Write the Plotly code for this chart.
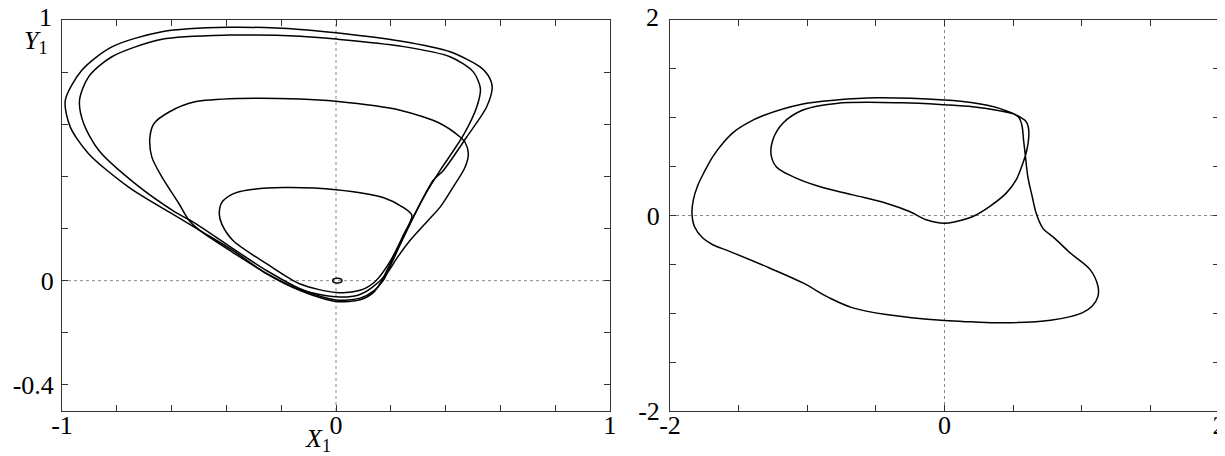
import plotly.graph_objects as go

# ---------------- Left panel (X1, Y1) ----------------
tiny_x = [0.022, 0.017, 0.005, -0.008, -0.012, -0.008, 0.005, 0.017, 0.022]
tiny_y = [0.0, 0.0065, 0.009, 0.0065, 0.0, -0.0065, -0.009, -0.0065, 0.0]

small_x = [0.0, 0.088, 0.142, 0.197, 0.245, 0.277, 0.245, 0.172, 0.0, -0.193, -0.321, -0.376,
           -0.416, -0.426, -0.417, -0.376, -0.252, -0.131, 0.0]
small_y = [-0.045, -0.037, -0.004, 0.073, 0.173, 0.25, 0.281, 0.319, 0.349, 0.357, 0.348, 0.333,
           0.301, 0.257, 0.218, 0.154, 0.064, -0.013, -0.045]

medium_x = [0.0, 0.080, 0.131, 0.185, 0.226, 0.270, 0.336, 0.380, 0.427, 0.471, 0.483, 0.471,
            0.453, 0.380, 0.234, 0.0, -0.131, -0.354, -0.515, -0.609, -0.664, -0.679, -0.672,
            -0.635, -0.573, -0.536, -0.496, -0.376, -0.252, -0.131, 0.0]
medium_y = [-0.062, -0.056, -0.027, 0.027, 0.092, 0.154, 0.231, 0.282, 0.358, 0.435, 0.487, 0.531,
            0.551, 0.603, 0.654, 0.688, 0.697, 0.699, 0.686, 0.647, 0.603, 0.551, 0.474,
            0.397, 0.295, 0.231, 0.192, 0.108, 0.027, -0.035, -0.062]

large2_x = [0.0, 0.088, 0.139, 0.172, 0.204, 0.241, 0.281, 0.328, 0.380, 0.465, 0.514, 0.527,
            0.501, 0.416, 0.234, 0.0, -0.131, -0.391, -0.635, -0.818, -0.903, -0.936, -0.921,
            -0.866, -0.733, -0.587, -0.518, -0.376, -0.252, -0.131, 0.0]
large2_y = [-0.074, -0.067, -0.038, 0.0, 0.069, 0.154, 0.242, 0.335, 0.423, 0.558, 0.667, 0.737,
            0.801, 0.859, 0.900, 0.927, 0.938, 0.942, 0.926, 0.859, 0.782, 0.692, 0.603,
            0.500, 0.372, 0.263, 0.223, 0.123, 0.038, -0.031, -0.074]

large1_x = [0.0, 0.088, 0.136, 0.167, 0.197, 0.234, 0.282, 0.355, 0.392, 0.477, 0.550, 0.570,
            0.555, 0.526, 0.416, 0.234, 0.0, -0.131, -0.392, -0.635, -0.818, -0.927, -0.988,
            -0.970, -0.903, -0.757, -0.599, -0.496, -0.375, -0.253, -0.131, 0.0]
large1_y = [-0.080, -0.073, -0.046, 0.0, 0.064, 0.141, 0.243, 0.385, 0.423, 0.551, 0.667, 0.743,
            0.788, 0.820, 0.878, 0.919, 0.951, 0.964, 0.972, 0.955, 0.897, 0.808, 0.692,
            0.590, 0.487, 0.359, 0.257, 0.192, 0.115, 0.026, -0.038, -0.080]

left_xticks = [-1, -0.8, -0.6, -0.4, -0.2, 0, 0.2, 0.4, 0.6, 0.8, 1]
left_xtext = ["-1", "", "", "", "", "0", "", "", "", "", "1"]
left_yticks = [-0.4, -0.2, 0, 0.2, 0.4, 0.6, 0.8, 1]
left_ytext = ["-0.4", "", "0", "", "", "", "", ""]
left_ytop_label = "1"

# ---------------- Right panel ----------------
orbit_x = [0.0, 0.206, 0.401, 0.486, 0.546, 0.590, 0.610, 0.614, 0.600, 0.571, 0.522, 0.450,
           0.328, 0.206, 0.085, 0.0, -0.133, -0.255, -0.425, -0.668, -0.911, -1.105, -1.226,
           -1.263, -1.251, -1.178, -1.032, -0.789, -0.304, 0.0, 0.206, 0.401, 0.510, 0.546,
           0.566, 0.576, 0.590, 0.607, 0.639, 0.668, 0.716, 0.801, 0.917, 1.061, 1.118, 1.118,
           1.075, 1.003, 0.773, 0.428, 0.197, 0.0, -0.425, -0.668, -0.838, -1.032, -1.275,
           -1.566, -1.688, -1.761, -1.822, -1.840, -1.830, -1.800, -1.755, -1.688, -1.615, -1.530,
           -1.430, -1.324, -1.032, -0.789, -0.498, 0.0]
orbit_y = [1.181, 1.153, 1.096, 1.051, 1.010, 0.969, 0.908, 0.806, 0.670, 0.535, 0.364, 0.229,
           0.092, -0.010, -0.061, -0.080, -0.044, 0.041, 0.126, 0.211, 0.296, 0.398, 0.500,
           0.619, 0.772, 0.943, 1.079, 1.147, 1.153, 1.133, 1.112, 1.071, 1.035, 0.994,
           0.908, 0.772, 0.602, 0.398, 0.194, 0.024, -0.129, -0.231, -0.384, -0.554, -0.724, -0.827,
           -0.929, -0.996, -1.071, -1.098, -1.088, -1.075, -1.013, -0.945, -0.843, -0.690, -0.537,
           -0.367, -0.299, -0.231, -0.112, 0.024, 0.160, 0.300, 0.433, 0.602, 0.739, 0.860,
           0.950, 1.020, 1.140, 1.181, 1.204, 1.181]

right_ticks = [-2, -1.5, -1, -0.5, 0, 0.5, 1, 1.5, 2]
right_xtext = ["-2", "", "", "", "0", "", "", "", "2"]
right_ytext = ["-2", "", "", "", "0", "", "", "", ""]
right_ytop_label = "2"

FONT = "Liberation Serif, Times New Roman, DejaVu Serif, serif"
FS = 26
line_left = dict(color="black", width=1.5, shape="spline", smoothing=0.8)
line_right = dict(color="black", width=1.5, shape="spline", smoothing=1.0)

fig = go.Figure()
for xs, ys in [(tiny_x, tiny_y), (small_x, small_y), (medium_x, medium_y),
               (large2_x, large2_y), (large1_x, large1_y)]:
    fig.add_trace(go.Scatter(x=xs, y=ys, mode="lines", line=line_left,
                             xaxis="x", yaxis="y", showlegend=False, hoverinfo="skip"))
fig.add_trace(go.Scatter(x=orbit_x, y=orbit_y, mode="lines", line=line_right,
                         xaxis="x2", yaxis="y2", showlegend=False, hoverinfo="skip"))

# page body has an 8px margin, so figure coordinates are offset by 8px
W, H = 1225, 456
ydom = [1 - 403 / H, 1 - 12 / H]
axis_common = dict(showline=True, linecolor="#333", linewidth=1, mirror="ticks",
                   ticks="inside", ticklen=6, tickcolor="#333", tickwidth=1,
                   showgrid=False, zeroline=False, automargin=False,
                   ticklabeloverflow="allow",
                   tickfont=dict(family=FONT, size=FS, color="black"))

fig.update_layout(
    width=W, height=H, autosize=False,
    margin=dict(l=0, r=0, t=0, b=0, pad=0, autoexpand=False),
    paper_bgcolor="white", plot_bgcolor="white",
    font=dict(family=FONT, size=FS, color="black"),
    xaxis=dict(domain=[54 / W, 602 / W], range=[-1, 1], tickmode="array",
               tickvals=left_xticks, ticktext=left_xtext, anchor="y",
               ticklabelstandoff=-9, **axis_common),
    yaxis=dict(domain=ydom, range=[-0.5, 1], tickmode="array",
               tickvals=left_yticks, ticktext=left_ytext, anchor="x",
               ticklabelstandoff=2, **axis_common),
    xaxis2=dict(domain=[662 / W, 1211 / W], range=[-2, 2], tickmode="array",
                tickvals=right_ticks, ticktext=right_xtext, anchor="y2",
                ticklabelstandoff=-9, **axis_common),
    yaxis2=dict(domain=ydom, range=[-2, 2], tickmode="array",
                tickvals=right_ticks, ticktext=right_ytext, anchor="x2",
                ticklabelstandoff=4, **axis_common),
)

dot = dict(color="#888", width=1, dash="dot")
fig.add_shape(type="line", xref="x", yref="y", x0=-1, x1=1, y0=0, y1=0, line=dot, layer="below")
fig.add_shape(type="line", xref="x", yref="y", x0=0, x1=0, y0=-0.5, y1=1, line=dot, layer="below")
fig.add_shape(type="line", xref="x2", yref="y2", x0=-2, x1=2, y0=0, y1=0, line=dot, layer="below")
fig.add_shape(type="line", xref="x2", yref="y2", x0=0, x1=0, y0=-2, y1=2, line=dot, layer="below")

txt_font = dict(family=FONT, size=FS, color="black")
# top y-axis labels sit slightly above the frame corner in the reference
fig.add_annotation(text=left_ytop_label, xref="paper", yref="paper",
                   x=37 / W, y=1 - 9 / H, xanchor="center", yanchor="middle",
                   showarrow=False, font=txt_font)
fig.add_annotation(text=right_ytop_label, xref="paper", yref="paper",
                   x=644 / W, y=1 - 10 / H, xanchor="center", yanchor="middle",
                   showarrow=False, font=txt_font)
fig.add_annotation(text="<i>Y</i><sub>1</sub>", xref="paper", yref="paper",
                   x=28 / W, y=1 - 34 / H, xanchor="center", yanchor="middle",
                   showarrow=False, font=txt_font)
fig.add_annotation(text="<i>X</i><sub>1</sub>", xref="paper", yref="paper",
                   x=310 / W, y=1 - 432 / H, xanchor="center", yanchor="middle",
                   showarrow=False, font=txt_font)

fig.write_html("out.html")
